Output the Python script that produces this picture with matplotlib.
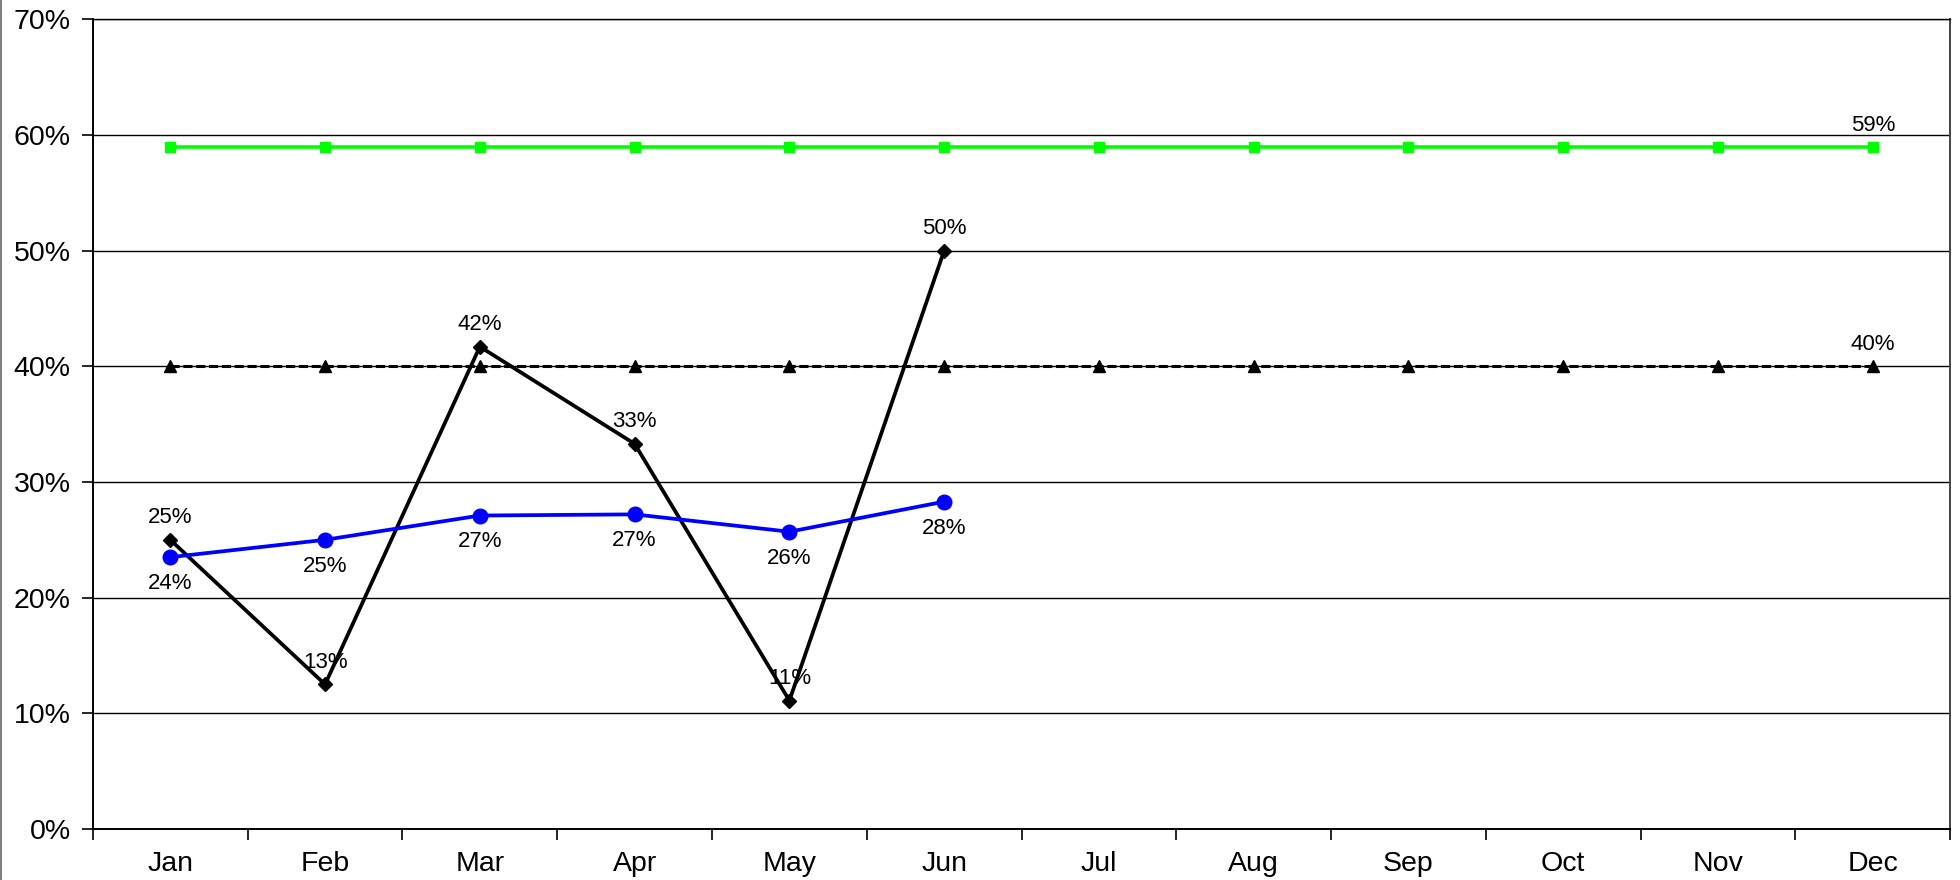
import matplotlib
matplotlib.use("Agg")
from matplotlib import pyplot as plt
from matplotlib.lines import Line2D

plt.rcParams['font.family'] = ['Liberation Sans', 'DejaVu Sans']

# chart data (percent)
months = ["Jan", "Feb", "Mar", "Apr", "May", "Jun", "Jul", "Aug", "Sep", "Oct", "Nov", "Dec"]
actual = [25.0, 12.5, 41.7, 33.3, 11.1, 50.0]
actual_labels = ["25%", "13%", "42%", "33%", "11%", "50%"]
ytd_avg = [23.5, 25.0, 27.1, 27.2, 25.7, 28.3]
ytd_labels = ["24%", "25%", "27%", "27%", "26%", "28%"]
stretch = [59] * 12
target = [40] * 12
y_ticks = [0, 10, 20, 30, 40, 50, 60, 70]


def main():
	fig = plt.figure(figsize=(19.6, 8.8), dpi=100)
	ax = fig.add_axes([0.0474, 0.058, 0.9476, 0.920])

	x_all = list(range(len(months)))
	x_six = x_all[:len(actual)]

	# green flat line with squares
	ax.plot(x_all, stretch, color="#00FF00", lw=2.6, marker="s", ms=7.5, zorder=3)
	# dashed black target with triangles
	ax.plot(x_all, target, color="black", lw=2.2, ls=(0, (3, 1.2)), marker="^", ms=8.5, zorder=3)
	# monthly actual (black diamonds)
	ax.plot(x_six, actual, color="black", lw=2.7, marker="D", ms=7, zorder=4)
	# running average (blue circles)
	ax.plot(x_six, ytd_avg, color="#0000FF", lw=2.7, marker="o", ms=10.5, zorder=5)

	# data labels
	for x, v, s in zip(x_six, actual, actual_labels):
		ax.annotate(s, (x, v), xytext=(0, 16), textcoords="offset points",
			ha="center", va="center", fontsize=16)
	for x, v, s in zip(x_six, ytd_avg, ytd_labels):
		ax.annotate(s, (x, v), xytext=(0, -19), textcoords="offset points",
			ha="center", va="center", fontsize=16)
	ax.annotate("59%", (x_all[-1], stretch[-1]), xytext=(0, 15), textcoords="offset points",
		ha="center", va="center", fontsize=16)
	ax.annotate("40%", (x_all[-1], target[-1]), xytext=(0, 16), textcoords="offset points",
		ha="center", va="center", fontsize=16)

	ax.set_xlim(-0.5, len(months) - 0.5)
	ax.set_ylim(0, 70)
	ax.set_yticks(y_ticks)
	ax.set_yticklabels([str(t) + "%" for t in y_ticks], fontsize=20.5)
	ax.set_xticks(x_all)
	ax.set_xticklabels(months, fontsize=20.5)
	ax.tick_params(axis="x", length=0, pad=16)
	# tick marks between categories
	ax.set_xticks([i - 0.5 for i in range(len(months) + 1)], minor=True)
	ax.tick_params(axis="x", which="minor", length=8, width=1.2, direction="out")
	ax.tick_params(axis="y", length=8, width=1.2, direction="out", pad=8)

	ax.grid(axis="y", color="black", lw=1.0)
	ax.set_axisbelow(True)
	for side in ["left", "bottom", "right"]:
		ax.spines[side].set_linewidth(1.4)
	ax.spines["top"].set_linewidth(1.0)
	ax.spines["right"].set_color("#444444")

	# thin gray frame edge on the left
	fig.add_artist(Line2D([0.0007, 0.0007], [0, 1], color="gray", lw=1.5))

	fig.savefig("out.png", dpi=100)


if __name__ == "__main__":
	main()
